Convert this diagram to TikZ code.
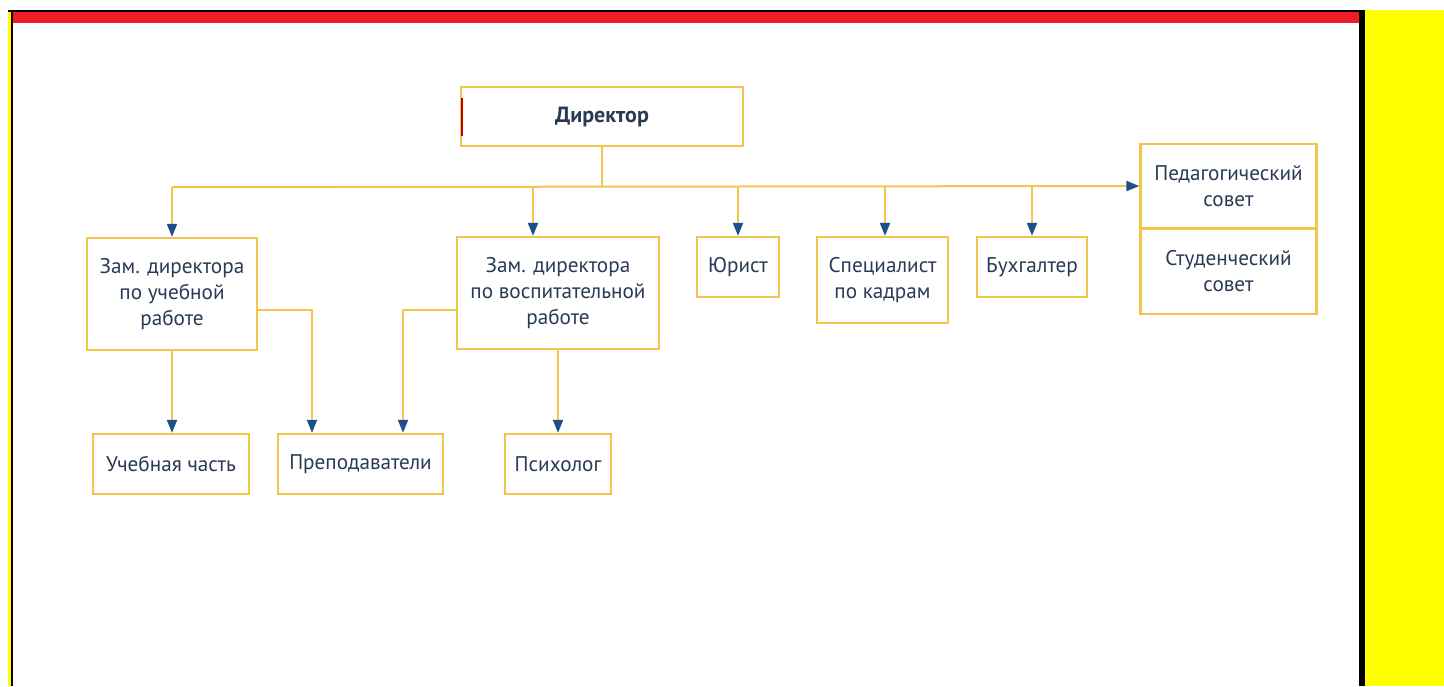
\documentclass[tikz,border=0pt]{standalone}
\usepackage{fontspec}
\setmainfont{PT Sans}
\usetikzlibrary{arrows.meta,calc}
\definecolor{gold}{HTML}{F1C54E}
\definecolor{txt}{HTML}{2A3A55}
\definecolor{arr}{HTML}{1F4E8C}
\definecolor{redbar}{HTML}{EE1C25}
\definecolor{ylw}{HTML}{FFFF00}
\tikzset{
  box/.style={draw=gold, line width=1.2pt, fill=white, text=txt, align=center,
    font=\fontsize{10.6}{13}\selectfont, inner sep=2pt},
  link/.style={draw=gold, line width=1pt},
  arrowlink/.style={link, -{Triangle[length=6.5pt,width=5pt,color=arr]}},
}
\begin{document}
\begin{tikzpicture}[x=0.5pt,y=-0.5pt]
\useasboundingbox (0,0) rectangle (1444,686);
\fill[white] (0,0) rectangle (1444,686);
% frame
\fill[ylw] (8,10) rectangle (11,686);
\fill[black] (11,10) rectangle (13,686);
\fill[black] (8,10) rectangle (1365,12);
\fill[redbar] (13,12) rectangle (1359,23);
\fill[black] (1359,10) rectangle (1365,686);
\fill[ylw] (1365,10) rectangle (1444,686);
% nodes
\node[box, minimum width=141pt, minimum height=29.5pt, font=\fontsize{11}{13}\selectfont\bfseries] (dir) at (602,116.5) {Директор};
\draw[red!75!black, line width=0.8pt] ([xshift=1.2pt,yshift=-9.5pt]dir.west) -- ([xshift=1.2pt,yshift=9.5pt]dir.west);
\node[box, minimum width=85pt, minimum height=56pt] (zam1) at (172,294) {Зам. директора\\по учебной\\работе};
\node[box, minimum width=101pt, minimum height=56pt] (zam2) at (558,293) {Зам. директора\\по воспитательной\\работе};
\node[box, minimum width=41pt, minimum height=30pt] (jur) at (738,267) {Юрист};
\node[box, minimum width=65.5pt, minimum height=43pt] (spec) at (882.5,280) {Специалист\\по кадрам};
\node[box, minimum width=55pt, minimum height=30pt] (buh) at (1032,267) {Бухгалтер};
\node[box, minimum width=88pt, minimum height=42pt] (ped) at (1228.5,186) {Педагогический\\совет};
\node[box, minimum width=88pt, minimum height=42.5pt] (stud) at (1228.5,271.5) {Студенческий\\совет};
\node[box, minimum width=78pt, minimum height=30pt] (uch) at (171,464) {Учебная часть};
\node[box, minimum width=82.5pt, minimum height=30pt] (prep) at (360.5,464) {Преподаватели};
\node[box, minimum width=53pt, minimum height=30pt] (psy) at (558,464) {Психолог};
% connectors
\coordinate (bus) at ($(dir.south)+(0,40)$);
\draw[link] (dir.south) -- (bus);
\draw[arrowlink] (zam1.north |- bus) -- (ped.west);
\draw[arrowlink] (zam1.north |- bus) -- (zam1.north);
\coordinate (z2top) at ([xshift=-12.5pt]zam2.north);
\draw[arrowlink] (z2top |- bus) -- (z2top);
\draw[arrowlink] (jur.north |- bus) -- (jur.north);
\coordinate (sptop) at ([xshift=1.25pt]spec.north);
\draw[arrowlink] (sptop |- bus) -- (sptop);
\draw[arrowlink] (buh.north |- bus) -- (buh.north);
\draw[arrowlink] (zam1.south) -- (zam1.south |- uch.north);
\coordinate (z1r) at ([yshift=-8pt]zam1.east);
\coordinate (pl) at ([xshift=-24.25pt]prep.north);
\draw[arrowlink] (z1r) -| (pl);
\coordinate (z2l) at ([yshift=-8.5pt]zam2.west);
\coordinate (pr) at ([xshift=21.25pt]prep.north);
\draw[arrowlink] (z2l) -| (pr);
\draw[arrowlink] (zam2.south) -- (psy.north);
\end{tikzpicture}
\end{document}
